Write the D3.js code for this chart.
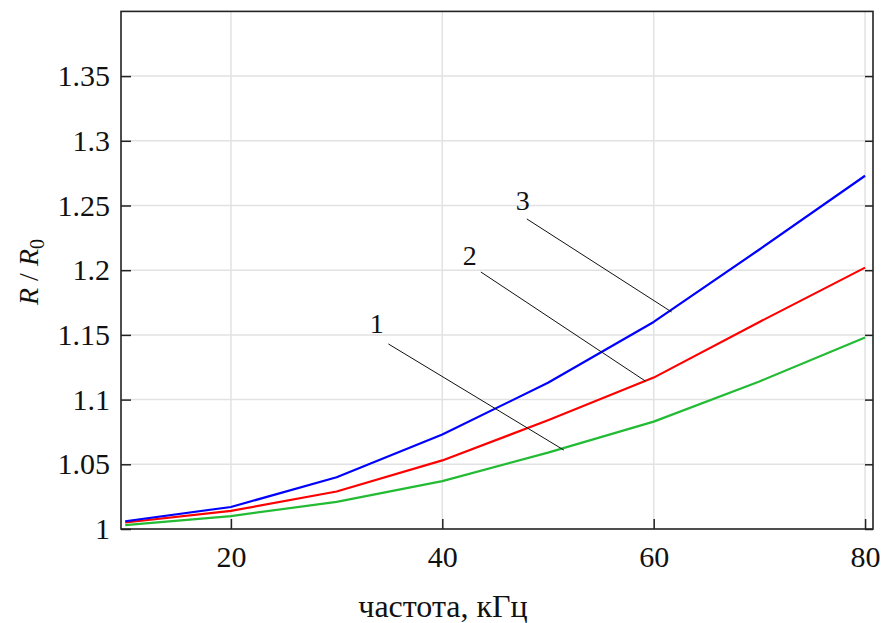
<!DOCTYPE html>
<html>
<head>
<meta charset="utf-8">
<script src="https://cdn.jsdelivr.net/npm/d3@7/dist/d3.min.js"></script>
<style>
  html, body { margin: 0; padding: 0; background: #fff; }
  svg { display: block; }
</style>
</head>
<body>
<svg id="chart" width="885" height="623"></svg>
<script>
// ---- data ----
const freq = [10, 20, 30, 40, 50, 60, 70, 80];            // кГц
const curve1 = [1.003, 1.010, 1.021, 1.037, 1.059, 1.083, 1.114, 1.148]; // green
const curve2 = [1.005, 1.014, 1.029, 1.053, 1.084, 1.117, 1.160, 1.202]; // red
const curve3 = [1.006, 1.017, 1.040, 1.073, 1.113, 1.160, 1.216, 1.273]; // blue
const seriesNames = ["1", "2", "3"];
const seriesColors = ["#22bb33", "#ff0000", "#0000ff"];
const xTicks = [20, 40, 60, 80];
const yTicks = [1, 1.05, 1.1, 1.15, 1.2, 1.25, 1.3, 1.35];
const yTickLabels = ["1", "1.05", "1.1", "1.15", "1.2", "1.25", "1.3", "1.35"];
// annotation labels and leader lines, in data units
const annoLabel = ["1", "2", "3"];
const annoText = [[33.8, 1.1515], [42.6, 1.204], [47.6, 1.2465]];
const annoFrom = [[34.9, 1.143], [43.65, 1.1986], [48.0, 1.2396]];
const annoTo = [[51.5, 1.061], [59.2, 1.1144], [61.7, 1.1677]];
const xDomain = [9.6, 80.75];
const yDomain = [1, 1.4];

(function () {
// ---- layout ----
const mLeft = 121, mRight = 873, mTop = 11.4, mBottom = 529;
const svg = d3.select("#chart");
const x = d3.scaleLinear().domain(xDomain).range([mLeft, mRight]);
const y = d3.scaleLinear().domain(yDomain).range([mBottom, mTop]);
const font = "'Liberation Serif', 'Times New Roman', serif";

// grid
svg.append("g").selectAll("line").data(yTicks.slice(1)).join("line")
  .attr("x1", mLeft).attr("x2", mRight)
  .attr("y1", d => y(d)).attr("y2", d => y(d))
  .attr("stroke", "#e2e2e2").attr("stroke-width", 1.5);
svg.append("g").selectAll("line").data(xTicks).join("line")
  .attr("x1", d => x(d)).attr("x2", d => x(d))
  .attr("y1", mTop).attr("y2", mBottom)
  .attr("stroke", "#e2e2e2").attr("stroke-width", 1.5);

// curves
const allSeries = [curve1, curve2, curve3];
const line = d3.line().x((d, i) => x(freq[i])).y(d => y(d));
svg.append("g").selectAll("path").data(allSeries).join("path")
  .attr("d", d => line(d))
  .attr("fill", "none")
  .attr("stroke", (d, i) => seriesColors[i])
  .attr("stroke-width", 2.2)
  .attr("stroke-linejoin", "round");

// leaders
svg.append("g").selectAll("line").data(annoLabel).join("line")
  .attr("x1", (d, i) => x(annoFrom[i][0])).attr("y1", (d, i) => y(annoFrom[i][1]))
  .attr("x2", (d, i) => x(annoTo[i][0])).attr("y2", (d, i) => y(annoTo[i][1]))
  .attr("stroke", "#111").attr("stroke-width", 1);
svg.append("g").selectAll("text").data(annoLabel).join("text")
  .attr("x", (d, i) => x(annoText[i][0])).attr("y", (d, i) => y(annoText[i][1]))
  .attr("text-anchor", "middle")
  .attr("font-family", font).attr("font-size", 28).attr("fill", "#111")
  .text(d => d);

// axes via d3
const xAxis = d3.axisBottom(x).tickValues(xTicks).tickSizeInner(-10).tickSizeOuter(0).tickPadding(17).tickFormat(d3.format("d"));
const gx = svg.append("g").attr("transform", `translate(0,${mBottom})`).call(xAxis);
gx.select(".domain").remove();
gx.selectAll("line").attr("stroke", "#222").attr("stroke-width", 1.5);
gx.selectAll("text").attr("font-family", font).attr("font-size", 30).attr("fill", "#111");

const yAxis = d3.axisLeft(y).tickValues(yTicks).tickSizeInner(-10).tickSizeOuter(0).tickPadding(11)
  .tickFormat((d, i) => yTickLabels[i]);
const gy = svg.append("g").attr("transform", `translate(${mLeft},0)`).call(yAxis);
gy.select(".domain").remove();
gy.selectAll("line").attr("stroke", "#222").attr("stroke-width", 1.5);
gy.selectAll("text").attr("font-family", font).attr("font-size", 30).attr("fill", "#111");

const yAxisR = d3.axisRight(y).tickValues(yTicks).tickSizeInner(-8).tickSizeOuter(0).tickFormat("");
const gyr = svg.append("g").attr("transform", `translate(${mRight},0)`).call(yAxisR);
gyr.select(".domain").remove();
gyr.selectAll("line").attr("stroke", "#222").attr("stroke-width", 1.5);

// frame
svg.append("rect").attr("x", mLeft).attr("y", mTop)
  .attr("width", mRight - mLeft).attr("height", mBottom - mTop)
  .attr("fill", "none").attr("stroke", "#222").attr("stroke-width", 1.6);

// axis titles
svg.append("text")
  .attr("x", 443).attr("y", 617)
  .attr("text-anchor", "middle")
  .attr("font-family", font).attr("font-size", 32).attr("fill", "#111")
  .text("частота, кГц");

const yt = svg.append("text")
  .attr("transform", "translate(38,272) rotate(-90)")
  .attr("text-anchor", "middle")
  .attr("font-family", font).attr("font-size", 28).attr("fill", "#111");
yt.append("tspan").attr("font-style", "italic").text("R");
yt.append("tspan").text(" / ");
yt.append("tspan").attr("font-style", "italic").text("R");
yt.append("tspan").attr("font-size", 20).attr("dy", 6).text("0");
})();
</script>
</body>
</html>
